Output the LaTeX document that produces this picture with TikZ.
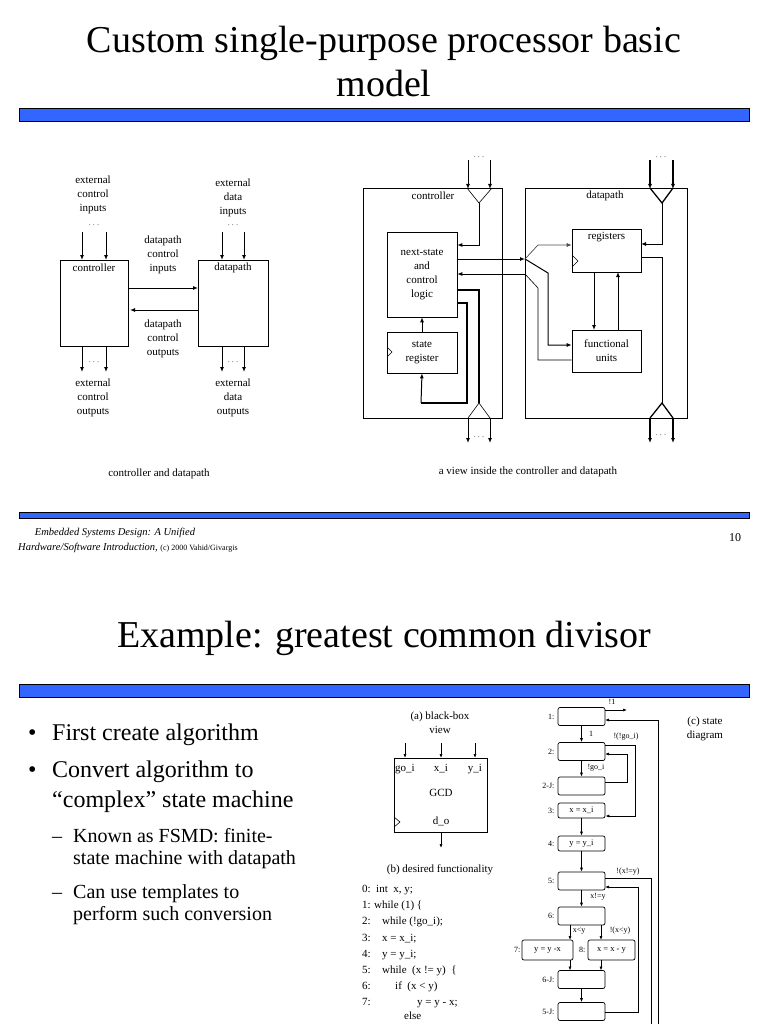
\documentclass[tikz,border=0pt]{standalone}
\usepackage{fontspec}
\setmainfont{Liberation Serif}
\usetikzlibrary{arrows.meta}
\begin{document}
\begin{tikzpicture}[x=1pt,y=-1pt,
  ar/.style={-{Latex[length=5pt,width=4pt]},line width=1pt},
  thk/.style={line width=1.3pt},
  thn/.style={line width=0.6pt},
  lab/.style={font=\fontsize{11}{14}\selectfont,align=center,inner sep=0pt},
  sm/.style={font=\fontsize{9}{10}\selectfont,inner sep=0pt},
  ss/.style={inner sep=0pt,font=\fontsize{8}{9}\selectfont},
  st/.style={draw,rounded corners=2pt,line width=0.7pt,minimum width=47pt,minimum height=18pt,inner sep=0pt,font=\fontsize{8.5}{9}\selectfont},
  sar/.style={-{Latex[length=4pt,width=3pt]},line width=0.7pt}]
\useasboundingbox (0,0) rectangle (768,1024);
\definecolor{barblue}{RGB}{51,102,255}
% ---- slide 1 ----
\node[font=\fontsize{38}{44}\selectfont,align=center] (t1) at (384,62) {Custom single-purpose processor basic\\model};
\path[draw=black,fill=barblue,line width=0.8pt] (19,108) rectangle (749,121);
% left diagram
\draw[thn] (60,260) rectangle (128,346); \node[lab] (lc) at (94,268) {controller};
\draw[thn] (198,260) rectangle (268,346); \node[lab] (ld) at (233,268) {datapath};
\node[lab] (eci) at (93,195) {external\\control\\inputs};
\node[lab] (edi) at (233,198) {external\\data\\inputs};
\node[lab] (dci) at (163,255) {datapath\\control\\inputs};
\node[lab] (dco) at (163,339) {datapath\\control\\outputs};
\node[lab] (eco) at (93,398) {external\\control\\outputs};
\node[lab] (edo) at (233,398) {external\\data\\outputs};
\foreach \x in {82,106,222,244}{\draw[ar] (\x,232) -- (\x,260); \draw[ar] (\x,346) -- (\x,372);}
\foreach \x in {94,233}{\node[sm] at (\x,225) {$\cdots$}; \node[sm] at (\x,362) {$\cdots$};}
\draw[ar] (128,288) -- (198,288);
\draw[ar] (198,310) -- (130,310);
\node[lab] (cap1) at (159,474) {controller and datapath};
% right diagram
\draw[thn] (363,188) rectangle (502,418); \node[lab] (rc) at (433,196) {controller};
\draw[thn] (525,188) rectangle (687,418); \node[lab] (rd) at (605,196) {datapath};
\node[draw,thn,minimum width=70pt,minimum height=85pt,lab,text width=60pt] (ns) at (422,274.5) {next-state\\and\\control\\logic};
\node[draw,thn,minimum width=70pt,minimum height=41pt,lab] (sr) at (422,352.5) {state\\register};
\draw[thn] (387,347) -- (392,352) -- (387,357);
\node[draw,thn,minimum width=69pt,minimum height=43pt,lab,anchor=north,text depth=30pt] (rg) at (606.5,229) {registers};
\draw[thn] (572,255) -- (578,261) -- (572,267);
\node[draw,thn,minimum width=69pt,minimum height=42pt,lab] (fu) at (606.5,351) {functional\\units};
% controller input funnel
\draw[ar] (468,160) -- (468,189); \draw[ar] (490,160) -- (490,189);
\node[sm] at (479,157) {$\cdots$};
\draw[thn] (467,188) -- (479,203) -- (492,188);
\draw[ar] (479,203) -- (479,245) -- (ns.east |- 0,245);
\draw[thk] (ns.east |- 0,290) -- (479,290) -- (479,403);
\draw[thk] (ns.east |- 0,303) -- (467,303) -- (467,403) -- (421,403);
\draw[ar] (421,403) -- (sr.south);
\draw[ar] (sr.north) -- (ns.south);
\draw[thn] (468,418) -- (479,403) -- (490,418);
\draw[ar] (468,418) -- (468,443); \draw[ar] (490,418) -- (490,443);
\node[sm] at (479,437) {$\cdots$};
% buses
\draw[ar] (ns.east |- 0,259) -- (525,259);
\draw[ar] (525,274) -- (ns.east |- 0,274);
\draw[ar,draw=black!70,line width=0.7pt] (525,259) -- (538,245) -- (rg.west |- 0,245);
\draw[ar] (525,259) -- (548,273) -- (548,345) -- (fu.west |- 0,345);
\draw[thn] (525,274) -- (538,288) -- (538,360) -- (fu.west |- 0,360);
\draw[ar] (594,272) -- (594,330);
\draw[ar] (618,330) -- (618,272);
% datapath in/out
\draw[ar,line width=1.4pt] (650,160) -- (650,189); \draw[ar,line width=1.4pt] (673,160) -- (673,189);
\node[sm] at (661,157) {$\cdots$};
\draw[thk] (650,188) -- (662,203) -- (673,188);
\draw[ar] (662,203) -- (662,244) -- (641,244);
\draw[thn] (641,257) -- (662,257) -- (662,403);
\draw[thk] (650,418) -- (662,403) -- (673,418);
\draw[ar,line width=1.4pt] (650,418) -- (650,443); \draw[ar,line width=1.4pt] (673,418) -- (673,443);
\node[sm] at (661,435) {$\cdots$};
\node[lab] (cap2) at (528,472) {a view inside the controller and datapath};
% footer
\path[draw=black,fill=barblue,line width=0.8pt] (19,512) rectangle (749,518);
\node[font=\fontsize{10.5}{12}\selectfont\itshape,inner sep=0pt] (f1) at (115,533) {Embedded Systems Design: A Unified};
\node[anchor=west,inner sep=0pt] (f2) at (18,548) {\fontsize{10.5}{12}\selectfont\itshape Hardware/Software Introduction, \upshape\fontsize{8}{10}\selectfont (c) 2000 Vahid/Givargis};
\node[font=\fontsize{12}{14}\selectfont,inner sep=0pt] (pg) at (735,538) {10};
% ---- slide 2 ----
\node[font=\fontsize{38}{44}\selectfont] (t2) at (384,638) {Example: greatest common divisor};
\path[draw=black,fill=barblue,line width=0.8pt] (19,684) rectangle (749,697);
\begin{scope}[every node/.style={anchor=base west,inner sep=0pt}]
\node[font=\fontsize{24}{28}\selectfont] (b1) at (28,740) {•};
\node[font=\fontsize{24}{28}\selectfont] (b1t) at (52,740) {First create algorithm};
\node[font=\fontsize{24}{28}\selectfont] (b2) at (28,777) {•};
\node[font=\fontsize{24}{28}\selectfont] (b2t) at (52,777) {Convert algorithm to};
\node[font=\fontsize{24}{28}\selectfont] (b2u) at (52,807) {“complex” state machine};
\node[font=\fontsize{20}{24}\selectfont] (s1) at (52,842) {–};
\node[font=\fontsize{20}{24}\selectfont] (s1t) at (73,842) {Known as FSMD: finite-};
\node[font=\fontsize{20}{24}\selectfont] (s1u) at (73,864) {state machine with datapath};
\node[font=\fontsize{20}{24}\selectfont] (s2) at (52,898) {–};
\node[font=\fontsize{20}{24}\selectfont] (s2t) at (73,898) {Can use templates to};
\node[font=\fontsize{20}{24}\selectfont] (s2u) at (73,920) {perform such conversion};
\end{scope}
% black box
\node[lab] (bbl) at (440,723) {(a) black-box\\view};
\draw[thn] (394,758) rectangle (487,832);
\draw[thn] (394,817) -- (400,822) -- (394,827);
\foreach \x/\t in {405/go\_i,441/x\_i,475/y\_i}{\draw[sar] (\x,743) -- (\x,758); \node[lab] at (\x,769) {\t};}
\node[lab] (gc) at (441,793) {GCD};
\node[lab] (dout) at (441,821) {d\_o};
\draw[sar] (441,832) -- (441,848);
\node[lab] (bdf) at (440,870) {(b) desired functionality};
\begin{scope}[every node/.style={anchor=base west,inner sep=0pt,font=\fontsize{11}{12}\selectfont}]
\node at (362,892) {0:}; \node at (376,892) {int\ \ x, y;};
\node at (362,908) {1:}; \node at (374,908) {while (1) \{};
\node at (362,924) {2:}; \node at (382,924) {while (!go\_i);};
\node at (362,941) {3:}; \node at (382,941) {x = x\_i;};
\node at (362,957) {4:}; \node at (382,957) {y = y\_i;};
\node at (362,973) {5:}; \node at (382,973) {while\ \ (x != y)\ \ \{};
\node at (362,989) {6:}; \node at (395,989) {if\ \ (x < y)};
\node at (362,1005) {7:}; \node at (417,1005) {y = y - x;};
\node at (404,1019) {else};
\end{scope}
% state diagram
\node[st] (q1) at (581.5,716.5) {};
\node[st] (q2) at (581.5,751.5) {};
\node[st] (q2j) at (581.5,786) {};
\node[st,minimum height=15pt] (q3) at (581.5,810.5) {x = x\_i};
\node[st,minimum height=15pt] (q4) at (581.5,843.5) {y = y\_i};
\node[st] (q5) at (581.5,881) {};
\node[st] (q6) at (581.5,916) {};
\node[st,minimum width=51pt,minimum height=20pt] (q7) at (547.5,950) {y = y -x};
\node[st,minimum height=20pt] (q8) at (611.5,950) {x = x - y};
\node[st] (q6j) at (581.5,979.5) {};
\node[st] (q5j) at (581.5,1011.5) {};
\foreach \n/\t in {q1/1:,q2/2:,q2j/2-J:,q3/3:,q4/4:,q5/5:,q6/6:,q6j/6-J:,q5j/5-J:}{\node[ss,anchor=east] at ([xshift=-3pt]\n.west) {\t};}
\node[ss,anchor=east] at ([xshift=-1pt]q7.west) {7:};
\node[ss,anchor=east] at ([xshift=-2pt]q8.west) {8:};
\draw[sar] (q1) -- (q2); \node[ss] at (591,734) {1};
\draw[sar] (605,710) -- (627,710); \node[ss] at (612,702) {!1};
\draw[sar] (658,1024) -- (658,720) -- (605,720);
\draw[sar] (605,745) -- (635,745) -- (635,816) -- (q3.east |- 0,816);
\node[ss] at (626,737) {!(!go\_i)};
\draw[sar] (q2) -- (q2j); \node[ss] at (596,768) {!go\_i};
\draw[sar] (605,782) -- (627,782) -- (627,754) -- (605,754);
\draw[sar] (q3) -- (q4); \draw[sar] (q4) -- (q5);
\draw[thn] (605,878) -- (651,878) -- (651,1024);
\node[ss] at (628,872) {!(x!=y)};
\draw[sar] (605,1012) -- (638,1012) -- (638,887) -- (605,887);
\draw[sar] (q5) -- (q6); \node[ss] at (598,897) {x!=y};
\draw[sar] (570,925) -- (570,940); \node[ss] at (579,931) {x<y};
\draw[sar] (601,925) -- (601,940); \node[ss] at (620,931) {!(x<y)};
\draw[sar] (570,960) -- (570,970.5); \draw[sar] (601,960) -- (601,970.5);
\draw[sar] (q6j) -- (q5j);
\node[lab] (csd) at (705,729) {(c) state\\diagram};
\end{tikzpicture}
\end{document}
